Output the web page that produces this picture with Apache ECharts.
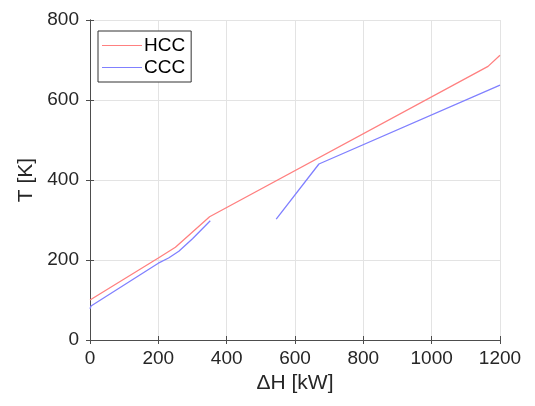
<!DOCTYPE html>
<html><head><meta charset="utf-8">
<script src="https://cdn.jsdelivr.net/npm/echarts@6/dist/echarts.min.js"></script>
<style>html,body{margin:0;padding:0;background:#fff}#c{width:535px;height:406px}</style>
</head><body><div id="c"></div>
<script>
const hccH = [0, 200, 250, 350, 1165, 1200];
const hccT = [100, 205, 232, 308, 684, 712];
const cccH1 = [0, 3, 200, 230, 260, 300, 352];
const cccT1 = [78, 85, 192, 205, 222, 253, 298];
const cccH2 = [545, 670, 1200];
const cccT2 = [302, 440, 637];
const xTicks = [0, 200, 400, 600, 800, 1000, 1200];
const yTicks = [0, 200, 400, 600, 800];

const pairs = (a, b) => a.map((v, i) => [v, b[i]]);
const cccData = pairs(cccH1, cccT1).concat([['-', '-']], pairs(cccH2, cccT2));
const FONT = 'Liberation Sans, Arial, sans-serif';
const axisCol = '#4d4d4d';

const chart = echarts.init(document.getElementById('c'), null, {renderer: 'canvas'});
chart.setOption({
  animation: false,
  textStyle: {fontFamily: FONT},
  grid: {left: 90, right: 35, top: 20, bottom: 66, containLabel: false},
  legend: {
    left: 98, top: 31, orient: 'vertical',
    data: ['HCC', 'CCC'],
    icon: 'rect',
    borderColor: '#333', borderWidth: 1, backgroundColor: '#fff',
    padding: [5, 6, 5, 4], itemGap: 3, itemWidth: 40, itemHeight: 1.2,
    textStyle: {fontSize: 19, color: '#000', fontFamily: FONT, padding: [0, 0, 0, -3]}
  },
  xAxis: [{
    type: 'value', min: 0, max: 1200, interval: 200,
    name: 'ΔH [kW]', nameLocation: 'middle', nameGap: 33,
    nameTextStyle: {fontSize: 21, color: '#262626', fontFamily: FONT},
    axisLine: {lineStyle: {color: axisCol}},
    axisTick: {inside: true, length: 4, lineStyle: {color: axisCol}},
    axisLabel: {fontSize: 19, color: '#262626', margin: 9,
      formatter: v => xTicks.includes(v) ? String(v) : ''},
    splitLine: {show: true, lineStyle: {color: '#e3e3e3'}}
  }, {
    type: 'value', min: 0, max: 1200, interval: 200, position: 'top',
    axisLine: {show: true, lineStyle: {color: axisCol}},
    axisTick: {inside: true, length: 4, lineStyle: {color: axisCol}},
    axisLabel: {show: false}, splitLine: {show: false}
  }],
  yAxis: [{
    type: 'value', min: 0, max: 800, interval: 200,
    name: 'T [K]', nameLocation: 'middle', nameGap: 50, nameRotate: 90,
    nameTextStyle: {fontSize: 21, color: '#262626', fontFamily: FONT},
    axisLine: {show: true, lineStyle: {color: axisCol}},
    axisTick: {show: true, inside: true, length: 4, lineStyle: {color: axisCol}},
    axisLabel: {fontSize: 19, color: '#262626', margin: 11,
      formatter: v => yTicks.includes(v) ? String(v) : ''},
    splitLine: {show: true, lineStyle: {color: '#e3e3e3'}}
  }, {
    type: 'value', min: 0, max: 800, interval: 200, position: 'right',
    axisLine: {show: true, lineStyle: {color: axisCol}},
    axisTick: {show: true, inside: true, length: 4, lineStyle: {color: axisCol}},
    axisLabel: {show: false}, splitLine: {show: false}
  }],
  series: [{
    name: 'HCC', type: 'line', data: pairs(hccH, hccT),
    symbol: 'none', smooth: false,
    lineStyle: {color: '#ff8080', width: 1.3}, itemStyle: {color: '#ff8080'}
  }, {
    name: 'CCC', type: 'line', data: cccData,
    symbol: 'none', smooth: false, connectNulls: false,
    lineStyle: {color: '#8080ff', width: 1.3}, itemStyle: {color: '#8080ff'}
  }]
});
</script></body></html>
